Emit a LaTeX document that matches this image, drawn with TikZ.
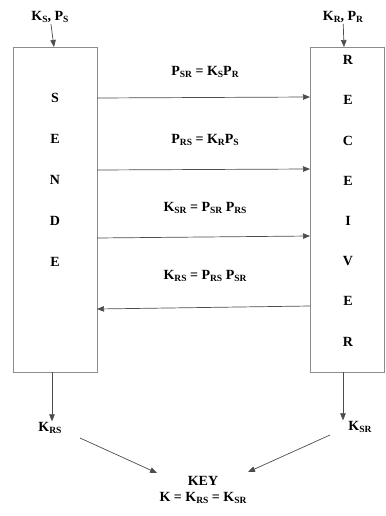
\documentclass[tikz,border=0pt]{standalone}
\usepackage{fontspec}
\setmainfont{Liberation Serif}
\usetikzlibrary{arrows.meta}
% small subscript-like letters set close to the baseline
\newcommand\lo[1]{\raisebox{-0.25ex}{\fontsize{9.5}{9.5}\selectfont #1}}
\begin{document}
\begin{tikzpicture}[x=1pt,y=-1pt,
  font=\bfseries\fontsize{14}{16}\selectfont,
  box/.style={draw=black!45, line width=1.1pt, rectangle, inner sep=0pt, anchor=north west},
  conn/.style={draw=black!70, line width=0.7pt, -{Triangle[length=7pt,width=5.5pt]}},
  lbl/.style={inner sep=1pt}]
\useasboundingbox (0,0) rectangle (385,516);

% the two parties
\node[box, minimum width=84pt, minimum height=325pt] (snd) at (13,47) {};
\node[box, minimum width=74pt, minimum height=325pt] (rcv) at (310,47) {};

% letters down the boxes
\foreach \ch [count=\i] in {S,E,N,D,E}
  \node (s\i) at (55, 57+41*\i) {\ch};
\foreach \ch [count=\i] in {R,E,C,E,I,V,E,R}
  \node (r\i) at (348, 20+40.2*\i) {\ch};

% private inputs
\node[lbl] (ins) at (50,17) {K\lo{S}, P\lo{S}};
\node[lbl] (inr) at (343,17) {K\lo{R}, P\lo{R}};
\coordinate (ts) at (54,47);
\coordinate (tr) at (344,47);
\draw[conn] (ins) -- (ts);
\draw[conn] (inr) -- (tr);

% exchanged values
\node[lbl] (m1) at (205,72) {P\lo{SR} = K\lo{S}P\lo{R}};
\node[lbl] (m2) at (205,140) {P\lo{RS} = K\lo{R}P\lo{S}};
\node[lbl] (m3) at (205,208) {K\lo{SR} = P\lo{SR} P\lo{RS}};
\node[lbl] (m4) at (205,276) {K\lo{RS} = P\lo{RS} P\lo{SR}};

\coordinate (a1) at (97,98);  \coordinate (b1) at (310,97);
\coordinate (a2) at (97,170); \coordinate (b2) at (310,169);
\coordinate (a3) at (97,238); \coordinate (b3) at (310,236);
\coordinate (a4) at (97,309); \coordinate (b4) at (310,306);
\draw[conn] (a1) -- (b1);
\draw[conn] (a2) -- (b2);
\draw[conn] (a3) -- (b3);
\draw[conn] (b4) -- (a4);

% resulting keys
\coordinate (bs) at (52,372);
\coordinate (br) at (343,372);
\node[lbl] (krs) at (50,428) {K\lo{RS}};
\node[lbl] (ksr) at (360,427) {K\lo{SR}};
\draw[conn] (bs) -- (krs.north -| bs);
\draw[conn] (br) -- (ksr.north -| br);

\node[inner sep=0pt, align=center] (key) at (203,490) {KEY\\[0pt]K = K\lo{RS} = K\lo{SR}};
\coordinate (ks) at (80,438);
\coordinate (kr) at (330,435);
\coordinate (es) at (157,473);
\coordinate (er) at (248,472);
\draw[conn] (ks) -- (es);
\draw[conn] (kr) -- (er);
\end{tikzpicture}
\end{document}
